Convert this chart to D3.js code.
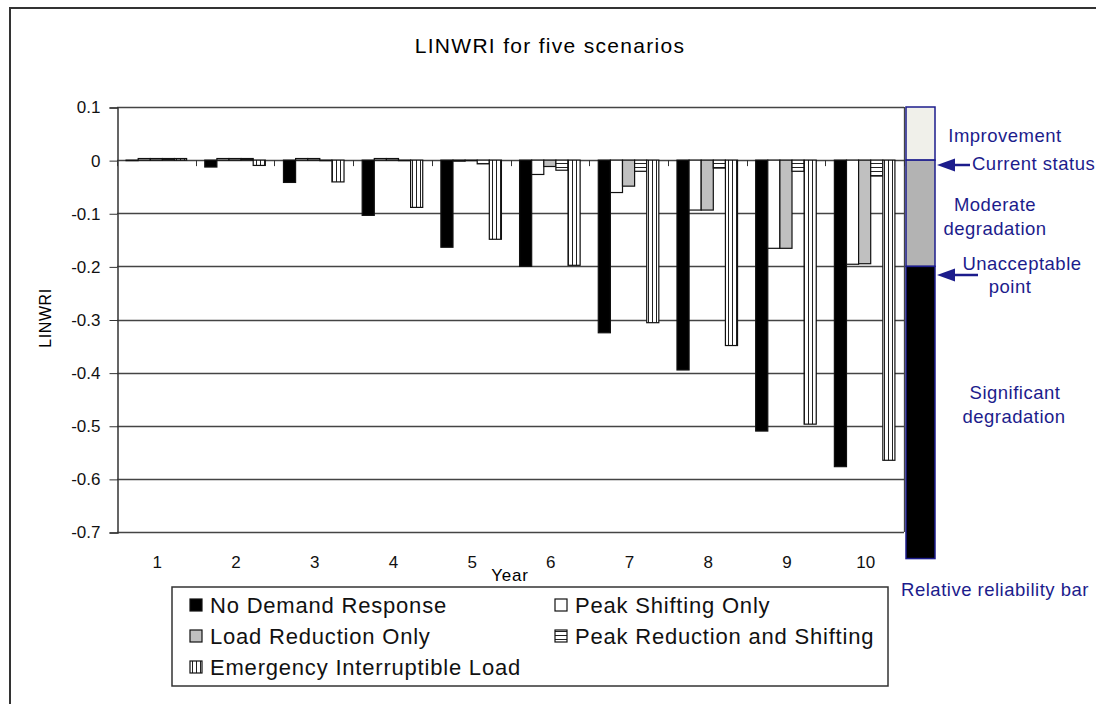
<!DOCTYPE html>
<html>
<head>
<meta charset="utf-8">
<script src="https://cdn.jsdelivr.net/npm/d3@7"></script>
<style>
  body { margin: 0; background: #fff; }
  svg { font-family: "Liberation Sans", Arial, sans-serif; }
</style>
</head>
<body>
<svg id="chart" width="1096" height="704"></svg>
<script>
// data
var years = ["1", "2", "3", "4", "5", "6", "7", "8", "9", "10"];
var seriesNames = ["No Demand Response", "Peak Shifting Only", "Load Reduction Only",
                   "Peak Reduction and Shifting", "Emergency Interruptible Load"];
var noDemandResponse = [0.000, -0.013, -0.042, -0.104, -0.164, -0.200, -0.325, -0.395, -0.510, -0.577];
var peakShifting     = [0.003, 0.003, 0.003, 0.003, -0.002, -0.027, -0.061, -0.094, -0.166, -0.196];
var loadReduction    = [0.003, 0.003, 0.003, 0.003, 0.000, -0.012, -0.049, -0.094, -0.166, -0.195];
var peakRedShift     = [0.003, 0.003, 0.000, 0.000, -0.007, -0.019, -0.021, -0.015, -0.021, -0.030];
var emergencyLoad    = [0.003, -0.010, -0.041, -0.089, -0.149, -0.198, -0.306, -0.349, -0.497, -0.565];
var yTicks = [0.1, 0, -0.1, -0.2, -0.3, -0.4, -0.5, -0.6, -0.7];
// reliability bar bands
var bandNames = ["Improvement", "Moderate degradation", "Significant degradation"];
var bandLimits = [[0.1, 0], [0, -0.2], [-0.2, -0.75]];

var allSeries = [noDemandResponse, peakShifting, loadReduction, peakRedShift, emergencyLoad];
var fills = ["#000", "#fff", "#c0c0c0", "url(#hh)", "url(#vh)"];
var navy = "#1c1c8c";

var svg = d3.select("#chart");
var plotLeft = 117, plotRight = 904, plotTop = 107, plotBottom = 532;

// patterns
var defs = svg.append("defs");
var hh = defs.append("pattern").attr("id", "hh").attr("patternUnits", "userSpaceOnUse")
  .attr("width", 4).attr("height", 4);
hh.append("rect").attr("width", 4).attr("height", 4).attr("fill", "#fff");
hh.append("line").attr("x1", 0).attr("x2", 4).attr("y1", 3.5).attr("y2", 3.5)
  .attr("stroke", "#222").attr("stroke-width", 1);
var vh = defs.append("pattern").attr("id", "vh").attr("patternUnits", "userSpaceOnUse")
  .attr("width", 4).attr("height", 4);
vh.append("rect").attr("width", 4).attr("height", 4).attr("fill", "#fff");
vh.append("line").attr("x1", 0.5).attr("x2", 0.5).attr("y1", 0).attr("y2", 4)
  .attr("stroke", "#222").attr("stroke-width", 1);

// outer frame
svg.append("rect").attr("x", 10).attr("y", 8).attr("width", 1100).attr("height", 710)
  .attr("fill", "none").attr("stroke", "#333").attr("stroke-width", 2);

svg.append("text").attr("x", 550).attr("y", 53).attr("text-anchor", "middle")
  .attr("font-size", 21).attr("letter-spacing", 1.3).text("LINWRI for five scenarios");

var xScale = d3.scaleBand().domain(years).range([plotLeft, plotRight]);
var xInner = d3.scaleBand().domain(d3.range(5)).range([0, xScale.bandwidth()])
  .paddingOuter(0.75);
var yScale = d3.scaleLinear().domain([-0.7, 0.1]).range([plotBottom, plotTop]);

// gridlines
svg.append("g").selectAll("line").data(yTicks).enter().append("line")
  .attr("x1", plotLeft).attr("x2", plotRight)
  .attr("y1", function(d) { return Math.round(yScale(d)) + 0.5; })
  .attr("y2", function(d) { return Math.round(yScale(d)) + 0.5; })
  .attr("stroke", "#444").attr("stroke-width", 1.3);
svg.append("line").attr("x1", plotRight + 0.5).attr("x2", plotRight + 0.5)
  .attr("y1", plotTop).attr("y2", plotBottom).attr("stroke", "#444").attr("stroke-width", 1.3);

// y axis
var yAxis = d3.axisLeft(yScale).tickValues(yTicks).tickSize(8).tickPadding(9)
  .tickFormat(function(d) { return d === 0 ? "0" : d3.format(".1f")(d).replace("\u2212", "-"); });
var yg = svg.append("g").attr("transform", "translate(" + (plotLeft + 0.5) + ",0.5)").call(yAxis);
yg.select(".domain").attr("stroke", "#333").attr("stroke-width", 1.5);
yg.selectAll(".tick line").attr("stroke", "#333");
yg.selectAll("text").attr("font-size", 17).attr("fill", "#111")
  .attr("font-family", "Liberation Sans, Arial, sans-serif");

svg.append("text").attr("transform", "translate(51,318) rotate(-90)")
  .attr("text-anchor", "middle").attr("font-size", 16).attr("letter-spacing", 0.6).text("LINWRI");

// x axis at zero with ticks between categories, labels at the bottom
svg.append("g").selectAll("line").data(d3.range(years.length + 1)).enter().append("line")
  .attr("x1", function(i) { return Math.round(plotLeft + i * xScale.step()) + 0.5; })
  .attr("x2", function(i) { return Math.round(plotLeft + i * xScale.step()) + 0.5; })
  .attr("y1", yScale(0)).attr("y2", yScale(0) + 6)
  .attr("stroke", "#333");
svg.append("g").selectAll("text").data(years).enter().append("text")
  .attr("x", function(d) { return xScale(d) + xScale.bandwidth() / 2 + 1; })
  .attr("y", 568).attr("text-anchor", "middle").attr("font-size", 17).attr("fill", "#111")
  .text(function(d) { return d; });
svg.append("text").attr("x", 510).attr("y", 581).attr("text-anchor", "middle")
  .attr("font-size", 17).attr("letter-spacing", 0.8).text("Year");

// bars
allSeries.forEach(function(vals, s) {
  svg.append("g").selectAll("rect").data(vals).enter().append("rect")
    .attr("x", function(d, i) { return xScale(years[i]) + xInner(s); })
    .attr("width", xInner.bandwidth())
    .attr("y", function(d) { return Math.min(yScale(d), yScale(0)); })
    .attr("height", function(d) { return Math.max(0.5, Math.abs(yScale(d) - yScale(0))); })
    .attr("fill", fills[s])
    .attr("stroke", "#111").attr("stroke-width", 1.2);
});

// legend
svg.append("rect").attr("x", 172).attr("y", 587).attr("width", 716).attr("height", 99)
  .attr("fill", "#fff").attr("stroke", "#333").attr("stroke-width", 1.5);
var legendPos = [[190, 605], [555, 605], [190, 636], [555, 636], [190, 667]];
seriesNames.forEach(function(name, s) {
  var p = legendPos[s];
  svg.append("rect").attr("x", p[0]).attr("y", p[1] - 6).attr("width", 12).attr("height", 12)
    .attr("fill", fills[s]).attr("stroke", "#111").attr("stroke-width", 1.2);
  svg.append("text").attr("x", p[0] + 20).attr("y", p[1] + 8).attr("font-size", 22)
    .attr("letter-spacing", 0.8).attr("fill", "#111").text(name);
});

// relative reliability bar
var bandFills = ["#f0f0ea", "#b3b3b3", "#000"];
var relG = svg.append("g");
bandLimits.forEach(function(b, i) {
  relG.append("rect").attr("x", 906).attr("width", 29)
    .attr("y", yScale(b[0])).attr("height", yScale(b[1]) - yScale(b[0]))
    .attr("fill", bandFills[i]).attr("stroke", navy).attr("stroke-width", 1.5);
});

var annot = svg.append("g").attr("fill", navy).attr("font-size", 18.5)
  .attr("letter-spacing", 0.5).attr("text-anchor", "middle");
annot.append("text").attr("x", 1005).attr("y", 142).text("Improvement");
annot.append("text").attr("x", 972).attr("y", 170).attr("text-anchor", "start").text("Current status");
annot.append("text").attr("x", 995).attr("y", 211).text("Moderate");
annot.append("text").attr("x", 995).attr("y", 235).text("degradation");
annot.append("text").attr("x", 1022).attr("y", 270).text("Unacceptable");
annot.append("text").attr("x", 1010).attr("y", 293).text("point");
annot.append("text").attr("x", 1015).attr("y", 399).text("Significant");
annot.append("text").attr("x", 1014).attr("y", 423).text("degradation");
annot.append("text").attr("x", 995).attr("y", 596).text("Relative reliability bar");

// arrows: [y, tip x, tail x]
var arrows = [[165, 937, 970], [275, 937, 978]];
arrows.forEach(function(a) {
  svg.append("line").attr("x1", a[1] + 12).attr("x2", a[2]).attr("y1", a[0]).attr("y2", a[0])
    .attr("stroke", navy).attr("stroke-width", 2.5);
  svg.append("path")
    .attr("d", "M" + a[1] + "," + a[0] + "L" + (a[1] + 18) + "," + (a[0] - 6.5) + "L" + (a[1] + 18) + "," + (a[0] + 6.5) + "Z")
    .attr("fill", navy);
});
</script>
</body>
</html>
